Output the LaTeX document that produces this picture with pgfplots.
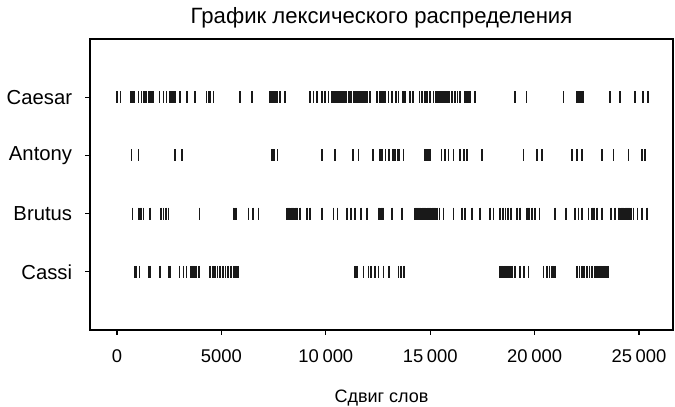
\documentclass[border=0pt]{standalone}
\usepackage{pgfplots}
\pgfplotsset{compat=1.18}
\usepackage{fontspec}
\setmainfont{Liberation Sans}

\pgfplotsset{tickbar/.style={only marks, mark=|, mark size=4.5pt,
  mark options={line width=1.2pt, draw=black!90}, draw=black!90}}

\begin{document}
\begin{tikzpicture}
\path[use as bounding box] (-67.5pt,-57.75pt) rectangle (438.75pt,247.5pt);
\begin{axis}[
  scale only axis, width=437.25pt, height=218.25pt,
  xmin=-1293, xmax=26628, ymin=-1, ymax=4, y dir=reverse,
  axis line style={line width=0.8pt},
  tick align=outside, major tick length=3.5pt,
  tick style={black, line width=0.8pt},
  xtick pos=left, ytick pos=left,
  scaled x ticks=false,
  xtick={0,5000,10000,15000,20000,25000},
  xticklabels={0,5000,10\hspace{0.2em}000,15\hspace{0.2em}000,20\hspace{0.2em}000,25\hspace{0.2em}000},
  ytick={0,1,2,3}, yticklabels={Caesar,Antony,Brutus,Cassi},
  xticklabel style={font=\fontsize{13.8}{16}\selectfont, anchor=base, inner sep=0pt, yshift=-21pt},
  yticklabel style={font=\fontsize{15.2}{18}\selectfont, anchor=east, inner sep=0pt, xshift=-9.75pt},
  title={График лексического распределения},
  title style={font=\fontsize{16.6}{19}\selectfont, at={(axis description cs:0.5,1)}, anchor=base, yshift=6pt, inner sep=0pt},
  xlabel={Сдвиг слов},
  xlabel style={font=\fontsize{13.5}{16}\selectfont, at={(axis description cs:0.5,0)}, anchor=base, yshift=-54pt, inner sep=0pt},
]
% Caesar
\addplot[tickbar] coordinates {
(10,0) (176,0) (655,0) (700,0) (735,0) (780,0) (815,0) (1022,0) (1182,0) (1294,0)
(1380,0) (1422,0) (1502,0) (1580,0) (1620,0) (1660,0) (1700,0) (1740,0) (2030,0) (2220,0)
(2380,0) (2540,0) (2600,0) (2670,0) (2780,0) (3020,0) (3340,0) (3740,0) (4296,0) (4380,0)
(4456,0) (4616,0) (5893,0) (6452,0) (7330,0) (7410,0) (7490,0) (7570,0) (7650,0) (7810,0)
(8050,0) (9250,0) (9410,0) (9570,0) (9810,0) (9970,0) (10130,0) (10290,0) (10365,0) (10445,0)
(10525,0) (10605,0) (10685,0) (10765,0) (10845,0) (10920,0) (11000,0) (11080,0) (11160,0) (11240,0)
(11320,0) (11400,0) (11480,0) (11560,0) (11640,0) (11720,0) (11800,0) (11880,0) (11960,0) (12120,0)
(12440,0) (12600,0) (12680,0) (12760,0) (12840,0) (13000,0) (13160,0) (13365,0) (13480,0) (13685,0)
(13800,0) (14035,0) (14165,0) (14480,0) (14610,0) (14740,0) (14835,0) (14990,0) (15150,0) (15280,0)
(15350,0) (15410,0) (15480,0) (15535,0) (15600,0) (15665,0) (15730,0) (15790,0) (15860,0) (15920,0)
(16050,0) (16175,0) (16300,0) (16430,0) (16670,0) (16750,0) (16830,0) (16910,0) (17150,0) (19060,0)
(19620,0) (21380,0) (22020,0) (22100,0) (22180,0) (22260,0) (22330,0) (23600,0) (24090,0) (24810,0)
(25200,0) (25430,0)
};
% Antony
\addplot[tickbar] coordinates {
(703,1) (1022,1) (2780,1) (3100,1) (7410,1) (7480,1) (7522,1) (7682,1) (9805,1) (10444,1)
(11290,1) (11560,1) (12250,1) (12600,1) (12700,1) (12860,1) (13020,1) (13205,1) (13320,1) (13430,1)
(13480,1) (13525,1) (13715,1) (14755,1) (14840,1) (14915,1) (14995,1) (15550,1) (15710,1) (15870,1)
(16110,1) (16430,1) (16620,1) (16750,1) (17470,1) (19465,1) (20105,1) (20345,1) (21780,1) (22020,1)
(22260,1) (23220,1) (23780,1) (24500,1) (25135,1) (25295,1)
};
% Brutus
\addplot[tickbar] coordinates {
(735,2) (1022,2) (1102,2) (1182,2) (1262,2) (1582,2) (2093,2) (2220,2) (2348,2) (2460,2)
(3945,2) (5574,2) (5640,2) (5702,2) (6293,2) (6500,2) (6772,2) (8130,2) (8200,2) (8257,2)
(8320,2) (8385,2) (8450,2) (8513,2) (8580,2) (8640,2) (8768,2) (9087,2) (9247,2) (9806,2)
(10365,2) (10557,2) (11004,2) (11196,2) (11403,2) (11675,2) (11962,2) (12521,2) (12580,2) (12633,2)
(12700,2) (12760,2) (13157,2) (13636,2) (14275,2) (14330,2) (14387,2) (14440,2) (14482,2) (14540,2)
(14594,2) (14650,2) (14706,2) (14770,2) (14834,2) (14900,2) (14962,2) (15020,2) (15073,2) (15130,2)
(15185,2) (15250,2) (15313,2) (15441,2) (15632,2) (16111,2) (16511,2) (16670,2) (16990,2) (17389,2)
(17868,2) (18028,2) (18347,2) (18475,2) (18603,2) (18730,2) (18858,2) (19146,2) (19305,2) (19625,2)
(19700,2) (19752,2) (19864,2) (20024,2) (20232,2) (20982,2) (21509,2) (21940,2) (22100,2) (22260,2)
(22579,2) (22739,2) (22800,2) (22850,2) (22978,2) (23218,2) (23649,2) (23857,2) (24016,2) (24070,2)
(24128,2) (24190,2) (24256,2) (24320,2) (24384,2) (24440,2) (24496,2) (24550,2) (24607,2) (24735,2)
(24927,2) (25134,2) (25374,2)
};
% Cassi
\addplot[tickbar] coordinates {
(863,3) (943,3) (1070,3) (1502,3) (1582,3) (2061,3) (2460,3) (2540,3) (2987,3) (3179,3)
(3338,3) (3530,3) (3600,3) (3658,3) (3720,3) (3785,3) (3913,3) (4456,3) (4584,3) (4696,3)
(4807,3) (4935,3) (5063,3) (5191,3) (5318,3) (5446,3) (5574,3) (5640,3) (5702,3) (5798,3)
(11403,3) (11460,3) (11515,3) (11802,3) (12042,3) (12154,3) (12361,3) (12521,3) (12760,3) (13040,3)
(13476,3) (13588,3) (13748,3) (18347,3) (18400,3) (18459,3) (18520,3) (18571,3) (18630,3) (18683,3)
(18740,3) (18794,3) (18850,3) (18906,3) (19066,3) (19305,3) (19497,3) (19705,3) (20424,3) (20583,3)
(20711,3) (20823,3) (20900,3) (20982,3) (22020,3) (22148,3) (22260,3) (22372,3) (22500,3) (22627,3)
(22755,3) (22898,3) (22960,3) (23010,3) (23070,3) (23138,3) (23200,3) (23266,3) (23330,3) (23394,3)
(23460,3) (23521,3)
};
\end{axis}
\end{tikzpicture}
\end{document}
